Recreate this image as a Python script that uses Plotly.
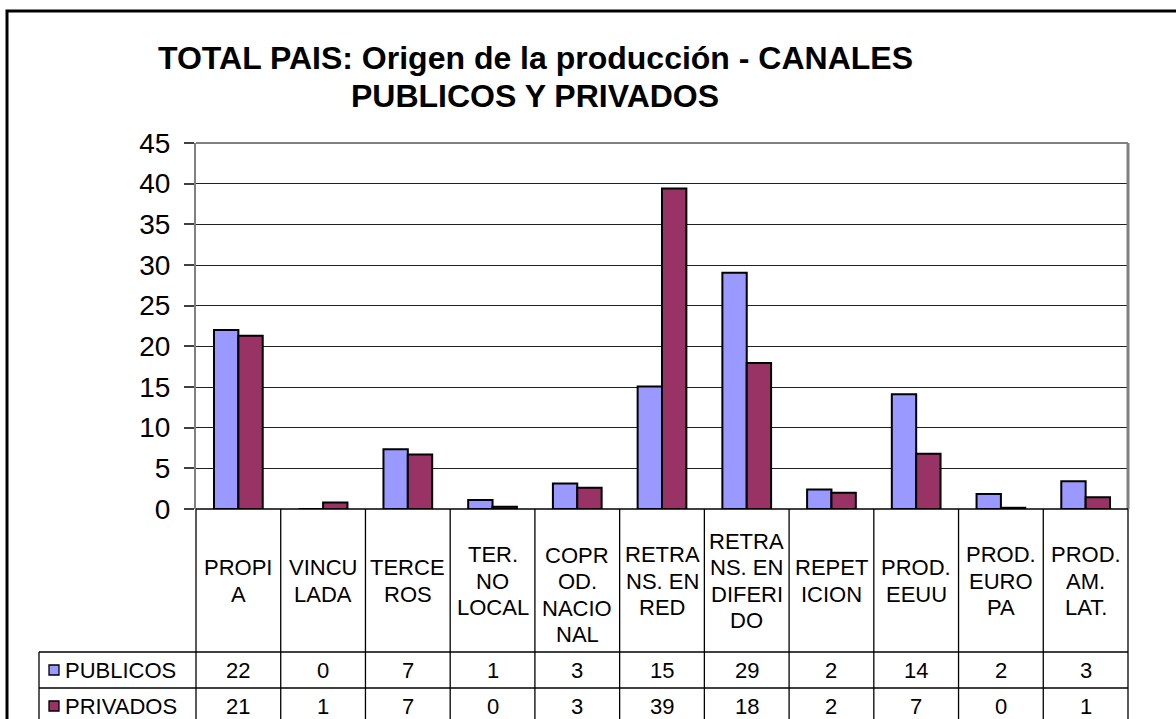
import plotly.graph_objects as go

# ---- data ----
categories = ["PROPIA", "VINCULADA", "TERCEROS", "TER. NO LOCAL", "COPROD. NACIONAL",
              "RETRANS. EN RED", "RETRANS. EN DIFERIDO", "REPETICION", "PROD. EEUU",
              "PROD. EUROPA", "PROD. AM. LAT."]
category_labels = ["PROPI<br>A", "VINCU<br>LADA", "TERCE<br>ROS", "TER.<br>NO<br>LOCAL",
                   "COPR<br>OD.<br>NACIO<br>NAL", "RETRA<br>NS. EN<br>RED",
                   "RETRA<br>NS. EN<br>DIFERI<br>DO", "REPET<br>ICION", "PROD.<br>EEUU",
                   "PROD.<br>EURO<br>PA", "PROD.<br>AM.<br>LAT."]
publicos = [22.0, 0.0, 7.35, 1.1, 3.15, 15.05, 29.05, 2.4, 14.1, 1.85, 3.4]
privados = [21.3, 0.8, 6.7, 0.28, 2.6, 39.4, 17.95, 2.0, 6.8, 0.15, 1.45]
series_names = ["PUBLICOS", "PRIVADOS"]
y_ticks = [0, 5, 10, 15, 20, 25, 30, 35, 40, 45]
title_lines = ["TOTAL PAIS: Origen de la producción - CANALES", "PUBLICOS Y PRIVADOS"]

# ---- styling ----
COL_PUB = "#9999FF"
COL_PRI = "#993366"
FONT = "Liberation Sans, Arial, sans-serif"
W, H = 1176, 719
L, R, T, B = 196, 1128, 143, 509


def px(X):
    return (X - L) / (R - L)


def py(Y):
    return (B - Y) / (B - T)


n = len(categories)
xs = list(range(n))

fig = go.Figure()
fig.add_trace(go.Bar(x=xs, y=publicos, name=series_names[0], marker_color=COL_PUB,
                     marker_line_color="black", marker_line_width=2))
fig.add_trace(go.Bar(x=xs, y=privados, name=series_names[1], marker_color=COL_PRI,
                     marker_line_color="black", marker_line_width=2))

shapes = []
annotations = []

# outer frame
shapes.append(dict(type="rect", xref="paper", yref="paper", x0=px(7), x1=px(1200),
                   y0=py(11), y1=py(760), line=dict(color="black", width=3),
                   fillcolor="rgba(0,0,0,0)", layer="below"))
# plot area top / right border (gray)
shapes.append(dict(type="line", xref="paper", yref="paper", x0=0, x1=1, y0=1, y1=1,
                   line=dict(color="#808080", width=2)))
shapes.append(dict(type="line", xref="paper", yref="paper", x0=1, x1=1, y0=0, y1=1,
                   line=dict(color="#808080", width=3)))

# ---- data table ----
row1_top, row2_top, row3_top, row_bottom = B, 652, 688, 760
left_col = 39
line_style = dict(color="black", width=1.3)
shapes.append(dict(type="line", xref="paper", yref="paper", x0=0, x1=1,
                   y0=py(row1_top), y1=py(row1_top), line=dict(color="black", width=1.5)))
for i in range(n + 1):
    shapes.append(dict(type="line", xref="paper", yref="paper", x0=i / n, x1=i / n,
                       y0=py(row1_top), y1=py(row_bottom), line=line_style))
for yy in (row2_top, row3_top):
    shapes.append(dict(type="line", xref="paper", yref="paper", x0=px(left_col), x1=1,
                       y0=py(yy), y1=py(yy), line=line_style))
shapes.append(dict(type="line", xref="paper", yref="paper", x0=px(left_col), x1=px(left_col),
                   y0=py(row2_top), y1=py(row_bottom), line=line_style))

# category labels (one annotation per line for tight line spacing)
LINE_H = 26.5
label_center = {i: 581 for i in range(n)}
label_center[4] = 595
for i, lab in enumerate(category_labels):
    parts = lab.split("<br>")
    m = len(parts)
    for k, part in enumerate(parts):
        yc = label_center[i] + (k - (m - 1) / 2) * LINE_H
        annotations.append(dict(x=i, xref="x", y=py(yc), yref="paper", text=part,
                                showarrow=False, xanchor="center", yanchor="middle",
                                font=dict(family=FONT, size=22, color="black")))

# values in rows
for vals, yc in ((publicos, 670), (privados, 706)):
    for i, v in enumerate(vals):
        annotations.append(dict(x=i, xref="x", y=py(yc), yref="paper", text=f"{v:.0f}",
                                showarrow=False, xanchor="center", yanchor="middle",
                                font=dict(family=FONT, size=22, color="black")))

# legend keys in table
for name, col, yc in ((series_names[0], COL_PUB, 670), (series_names[1], COL_PRI, 706)):
    shapes.append(dict(type="rect", xref="paper", yref="paper", x0=px(49), x1=px(59),
                       y0=py(yc - 5), y1=py(yc + 5), fillcolor=col,
                       line=dict(color="black", width=1.3)))
    annotations.append(dict(x=px(63), xref="paper", y=py(yc), yref="paper", text=name,
                            showarrow=False, xanchor="left", yanchor="middle",
                            font=dict(family=FONT, size=22, color="black")))

# title
for txt, yc in zip(title_lines, (58, 96)):
    annotations.append(dict(x=px(535), xref="paper", y=py(yc), yref="paper",
                            text=f"<b>{txt}</b>",
                            showarrow=False, xanchor="center", yanchor="middle",
                            font=dict(family=FONT, size=32, color="black")))

fig.update_layout(
    width=W, height=H,
    margin=dict(l=L, r=W - R, t=T, b=H - B, pad=0),
    paper_bgcolor="white", plot_bgcolor="white",
    barmode="group", bargap=0.425, bargroupgap=0,
    showlegend=False,
    shapes=shapes, annotations=annotations,
    xaxis=dict(range=[-0.5, n - 0.5], showticklabels=False, ticks="", showgrid=False,
               zeroline=False, showline=False, fixedrange=True),
    yaxis=dict(range=[0, 45], tickvals=y_ticks, ticks="outside", ticklen=10,
               tickcolor="#404040", tickwidth=1.5, showline=True, linecolor="#808080",
               linewidth=2, showgrid=True, gridcolor="#202020", gridwidth=1,
               zeroline=False, ticklabelstandoff=8,
               tickfont=dict(family=FONT, size=28, color="black")),
)

fig.write_html("out.html", config={"displayModeBar": False},
               post_script="document.body.style.margin='0';")
